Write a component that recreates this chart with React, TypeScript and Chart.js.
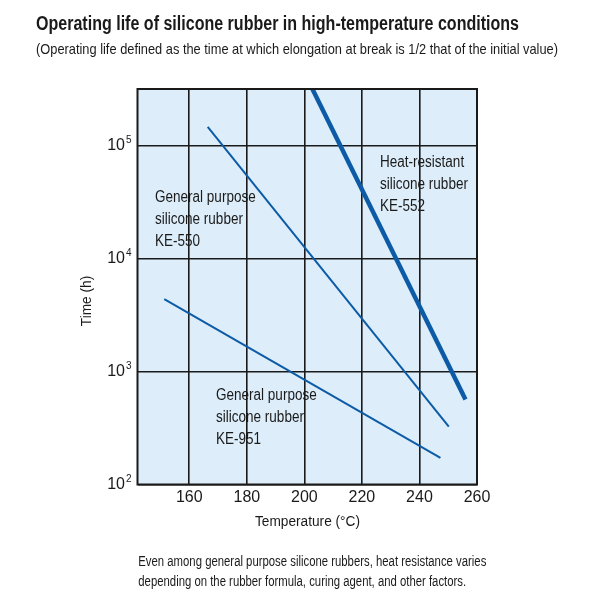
import React, { useEffect, useRef } from 'react';
import { Chart, registerables } from 'chart.js';

Chart.register(...registerables);

// ---- data ----
const temperatureTicks = [160, 180, 200, 220, 240, 260];
const timeTicks = [100, 1000, 10000, 100000];
const timeTickBase = '10';
const timeTickExponents = ['2', '3', '4', '5'];

const ke550Temps = [166.4, 250.2];
const ke550Hours = [146000, 325];

const ke951Temps = [151.3, 247.3];
const ke951Hours = [4370, 172];

const ke552Temps = [202.8, 256.0];
const ke552Hours = [316000, 565];

const titleText = 'Operating life of silicone rubber in high-temperature conditions';
const subtitleText = '(Operating life defined as the time at which elongation at break is 1/2 that of the initial value)';
const xAxisTitle = 'Temperature (°C)';
const yAxisTitle = 'Time (h)';
const footerLines = [
  'Even among general purpose silicone rubbers, heat resistance varies',
  'depending on the rubber formula, curing agent, and other factors.',
];
const ke550Label = ['General purpose', 'silicone rubber', 'KE-550'];
const ke951Label = ['General purpose', 'silicone rubber', 'KE-951'];
const ke552Label = ['Heat-resistant', 'silicone rubber', 'KE-552'];

const FONT = '"Liberation Sans", Arial, sans-serif';
const LINE_COLOR = '#0d5ba6';
const INK = '#1a1a1a';

const toPoints = (xs: number[], ys: number[]) => xs.map((x, i) => ({ x, y: ys[i] }));

// draw text condensed horizontally (the reference uses a narrow typeface)
function narrowText(ctx: any, text: string, x: number, y: number, squeeze: number, align: 'left' | 'center' = 'left') {
  const w = ctx.measureText(text).width * squeeze;
  ctx.save();
  const x0 = align === 'center' ? x - w / 2 : x;
  ctx.translate(x0, y);
  ctx.scale(squeeze, 1);
  ctx.textAlign = 'left';
  ctx.fillText(text, 0, 0);
  ctx.restore();
}
const squeezeFor = (ctx: any, text: string, width: number) => width / ctx.measureText(text).width;

const decorPlugin = {
  id: 'decor',
  beforeDraw(chart: any) {
    const { ctx, chartArea } = chart;
    ctx.save();
    ctx.fillStyle = '#ffffff';
    ctx.fillRect(0, 0, chart.width, chart.height);
    ctx.fillStyle = '#ddeefa';
    ctx.fillRect(chartArea.left, chartArea.top, chartArea.right - chartArea.left, chartArea.bottom - chartArea.top);
    ctx.restore();
  },
  afterDraw(chart: any) {
    const { ctx, chartArea } = chart;
    const yScale = chart.scales.y;
    ctx.save();
    // frame
    ctx.strokeStyle = INK;
    ctx.lineWidth = 2;
    ctx.strokeRect(chartArea.left, chartArea.top, chartArea.right - chartArea.left, chartArea.bottom - chartArea.top);

    ctx.fillStyle = INK;
    ctx.textBaseline = 'middle';
    ctx.textAlign = 'left';

    // exponents of the y tick labels
    ctx.font = `10px ${FONT}`;
    timeTicks.forEach((v, i) => {
      const py = yScale.getPixelForValue(v);
      ctx.fillText(timeTickExponents[i], chartArea.left - 11.5, py - 5.5);
    });

    // title
    ctx.font = `bold 20px ${FONT}`;
    narrowText(ctx, titleText, 36, 24, squeezeFor(ctx, titleText, 483));
    ctx.font = `14.5px ${FONT}`;
    narrowText(ctx, subtitleText, 36, 49.5, squeezeFor(ctx, subtitleText, 522));

    // in-plot labels
    ctx.font = `16px ${FONT}`;
    const labelSqueeze = squeezeFor(ctx, 'General purpose', 100.7);
    const drawLines = (lines: string[], x: number, y: number) => {
      lines.forEach((t, i) => narrowText(ctx, t, x, y + i * 22, labelSqueeze));
    };
    drawLines(ke550Label, 155, 198);
    drawLines(ke552Label, 380, 163);
    drawLines(ke951Label, 216, 396);

    // axis titles
    ctx.font = `15.5px ${FONT}`;
    const axisSqueeze = squeezeFor(ctx, xAxisTitle, 105);
    narrowText(ctx, xAxisTitle, 307.5, 521.5, axisSqueeze, 'center');
    ctx.save();
    ctx.translate(87, 301);
    ctx.rotate(-Math.PI / 2);
    narrowText(ctx, yAxisTitle, 0, 0, axisSqueeze, 'center');
    ctx.restore();

    // footer
    ctx.font = `14px ${FONT}`;
    const footSqueeze = squeezeFor(ctx, footerLines[0], 348);
    footerLines.forEach((t, i) => narrowText(ctx, t, 138.3, 562 + i * 19.7, footSqueeze));
    ctx.restore();
  },
};

export default function App() {
  const ref = useRef<HTMLCanvasElement | null>(null);

  useEffect(() => {
    if (!ref.current) return;
    const lineDs = (label: string, xs: number[], ys: number[], width: number) => ({
      label,
      data: toPoints(xs, ys),
      borderColor: LINE_COLOR,
      backgroundColor: LINE_COLOR,
      borderWidth: width,
      pointRadius: 0,
      showLine: true,
      fill: false,
      tension: 0,
      borderCapStyle: 'butt' as const,
    });
    const chart = new Chart(ref.current, {
      type: 'scatter',
      data: {
        datasets: [
          lineDs('KE-550', ke550Temps, ke550Hours, 2),
          lineDs('KE-951', ke951Temps, ke951Hours, 2),
          lineDs('KE-552', ke552Temps, ke552Hours, 4.5),
        ],
      },
      options: {
        responsive: false,
        animation: false,
        layout: { padding: { left: 0, top: 89, right: 123, bottom: 0 } },
        plugins: { legend: { display: false }, tooltip: { enabled: false }, title: { display: false } },
        scales: {
          x: {
            type: 'linear',
            min: 142,
            max: 260,
            afterFit: (s: any) => { s.height = 115.5; },
            afterBuildTicks: (s: any) => { s.ticks = temperatureTicks.map((v) => ({ value: v })); },
            grid: { color: INK, lineWidth: 1.6, drawTicks: false },
            border: { display: false },
            ticks: {
              color: INK,
              font: { family: FONT, size: 16 },
              padding: 3,
              maxRotation: 0,
              callback: (v: any) => String(v),
            },
          },
          y: {
            type: 'logarithmic',
            min: 100,
            max: Math.pow(10, 5.5),
            afterFit: (s: any) => { s.width = 137.5; },
            afterBuildTicks: (s: any) => { s.ticks = timeTicks.map((v) => ({ value: v })); },
            grid: { color: INK, lineWidth: 1.6, drawTicks: false },
            border: { display: false },
            ticks: {
              color: INK,
              font: { family: FONT, size: 16 },
              padding: 12.5,
              callback: (v: any) => (timeTicks.indexOf(Number(v)) >= 0 ? timeTickBase : ''),
            },
          },
        },
      },
      plugins: [decorPlugin],
    });
    return () => chart.destroy();
  }, []);

  return (
    <div style={{ position: 'absolute', left: 0, top: 0, width: 600, height: 600, background: '#fff' }}>
      <canvas ref={ref} width={600} height={600} style={{ width: 600, height: 600, display: 'block' }} />
    </div>
  );
}
